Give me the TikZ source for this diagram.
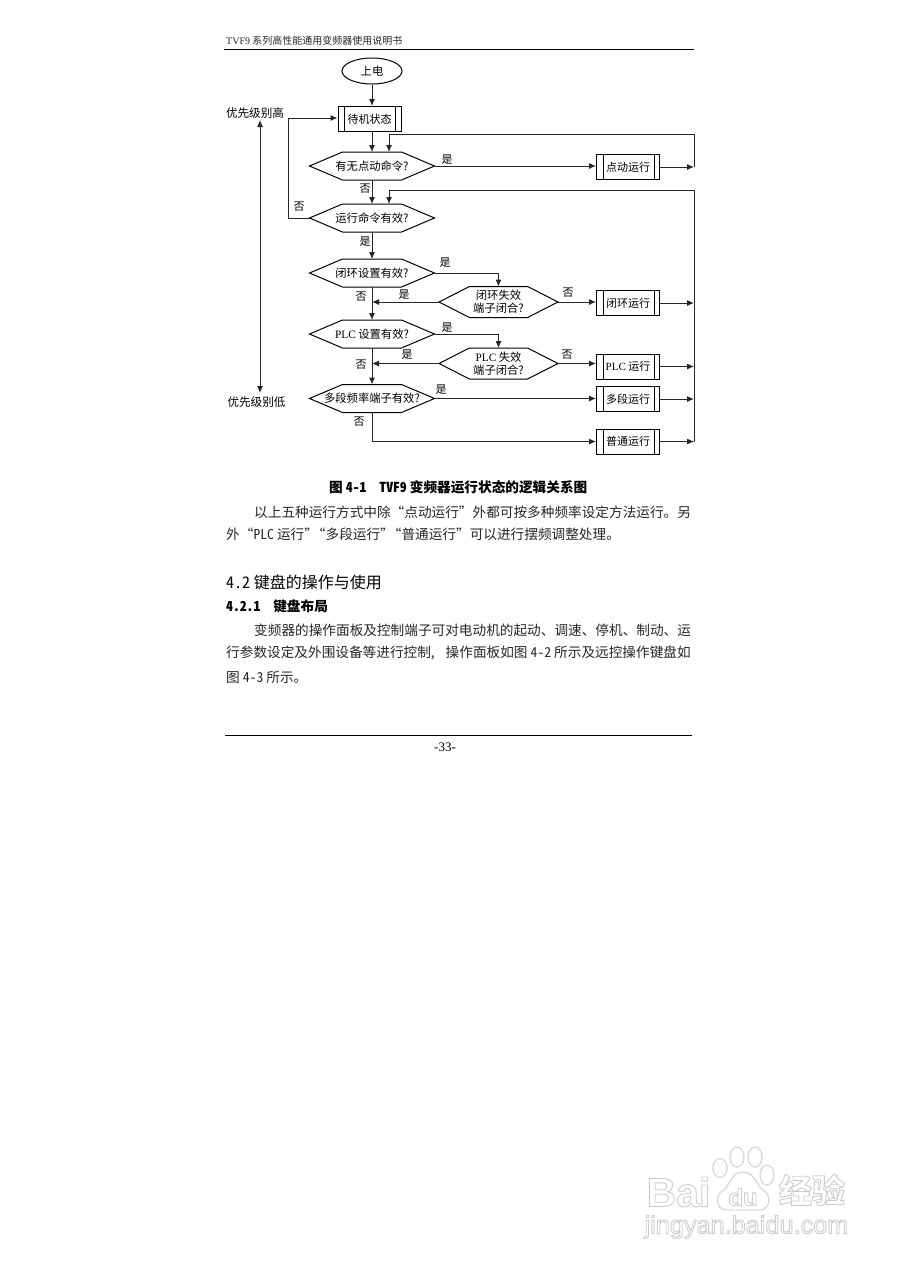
\documentclass[tikz,border=0pt]{standalone}
\usepackage{fontspec}
\setmainfont{Noto Sans CJK SC}
\newfontfamily\lat{Liberation Serif}
\newfontfamily\mn[RawFeature=+hwid]{Noto Sans CJK SC}
\newfontfamily\logofont{Liberation Sans}
\newcommand{\outlined}[1]{\special{pdf:code 1 Tr 0.9 w 0.8 G}#1\special{pdf:code 0 Tr}}
\usetikzlibrary{arrows.meta,shapes.geometric,shapes.symbols}
\tikzset{
  flowline/.style={draw=black!85,line width=1pt,>={Latex[length=7pt,width=6pt]}},
  startnode/.style={draw,ellipse,line width=1pt,minimum width=60pt,minimum height=26pt,inner sep=0pt,font=\fontsize{11.3}{13}\selectfont},
  procbox/.style={draw,line width=1pt,minimum width=63pt,minimum height=25pt,inner sep=0pt,font=\fontsize{11}{13}\selectfont,
    path picture={\draw[line width=1pt] ([xshift=6.5pt]path picture bounding box.north west) -- ([xshift=6.5pt]path picture bounding box.south west);
      \draw[line width=1pt] ([xshift=-5.5pt]path picture bounding box.north east) -- ([xshift=-5.5pt]path picture bounding box.south east);}},
  decision/.style={draw,signal,signal to=east and west,signal pointer angle=46,line width=1pt,inner sep=0pt,outer sep=0pt,
    minimum width=125pt,minimum height=28pt},
  faildecision/.style={decision,signal pointer angle=54,minimum width=119pt,minimum height=31pt},
  hextext/.style={inner sep=0pt,align=center,font=\fontsize{11.3}{13}\selectfont},
  lbl/.style={inner sep=0pt,font=\fontsize{11}{12}\selectfont},
  sidelbl/.style={inner sep=0pt,font=\fontsize{11.6}{13}\selectfont},
  bodyline/.style={anchor=west,inner sep=0pt,text=black!85,font=\fontsize{13.65}{15}\selectfont},
  logotext/.style={inner sep=0pt},
}
\begin{document}
\begin{tikzpicture}[x=1pt,y=-1pt]
        \useasboundingbox (0,0) rectangle (905,1280);
        % Header %
        \node [anchor=west,inner sep=0pt,text=black!85,font=\fontsize{10}{12}\selectfont] (header) at (226,41) {{\lat TVF9} 系列高性能通用变频器使用说明书};
        \coordinate (headl) at (224,49);
        \coordinate (headr) at (694,49);
        \draw [line width=1pt] (headl) -- (headr);
        % Flow nodes %
        \node [startnode] (power) at (372,71) {上电};
        \node [procbox] (boxwait) at (369.5,119) {待机状态};
        \node [decision] (hexjog) at (372,166) {};
        \node [decision] (hexrun) at (372,218) {};
        \node [decision] (hexloop) at (372,273) {};
        \node [faildecision] (hexloopfail) at (498.5,302) {};
        \node [decision] (hexplc) at (372,334) {};
        \node [faildecision] (hexplcfail) at (498.5,363.5) {};
        \node [decision] (hexmulti) at (372,398.5) {};
        \node [hextext] (tjog) at (hexjog) {有无点动命令?};
        \node [hextext] (trun) at (hexrun) {运行命令有效?};
        \node [hextext] (tloop) at (hexloop) {闭环设置有效?};
        \node [hextext] (tloopfail) at (hexloopfail) {闭环失效\\端子闭合?};
        \node [hextext] (tplc) at (hexplc) {{\lat PLC} 设置有效?};
        \node [hextext] (tplcfail) at (hexplcfail) {{\lat PLC} 失效\\端子闭合?};
        \node [hextext] (tmulti) at (hexmulti) {多段频率端子有效?};
        \node [procbox] (boxjog) at (628,167) {点动运行};
        \node [procbox] (boxloop) at (628,303) {闭环运行};
        \node [procbox] (boxplc) at (628,366.5) {{\lat PLC} 运行};
        \node [procbox] (boxmulti) at (628,399) {多段运行};
        \node [procbox] (boxnormal) at (628,441.5) {普通运行};
        % Free ends %
        \coordinate (toppr) at (694,134);
        \coordinate (dropjog) at (389,134);
        \coordinate (toprun) at (694,190);
        \coordinate (droprun) at (389,190);
        \coordinate (busend) at (694,441.5);
        \coordinate (backtop) at (288,118);
        \coordinate (backbot) at (288,218);
        \coordinate (prihigh) at (260,120);
        \coordinate (prilow) at (260,393);
        % Arrows %
        \begin{scope}[flowline]
          \draw [->] (power) -- (power |- boxwait.north);
          \draw [->] (power |- boxwait.south) -- (hexjog.north);
          \draw [->] (hexjog) ++(0,14) -- (hexrun.north);
          \draw [->] (hexrun) ++(0,14) -- (hexloop.north);
          \draw [->] (hexjog.east) -- (hexjog.east -| boxjog.west);
          \draw (toppr) -- (dropjog);
          \draw [->] (dropjog) -- (dropjog |- hexjog.north);
          \draw (toppr) -- (boxjog.east -| toppr);
          \draw (toprun) -- (droprun);
          \draw [->] (droprun) -- (droprun |- hexrun.north);
          \draw (toprun) -- (busend);
          \foreach \boxname in {boxjog,boxloop,boxplc,boxmulti,boxnormal}
            \draw [->] (\boxname.east) -- (\boxname.east -| toppr);
          \draw (hexrun.west) -- (backbot) -- (backtop);
          \draw [->] (backtop) -- (boxwait.west |- backtop);
          \draw [<->] (prihigh) -- (prilow);
          \draw [->] (hexloop.east) -| (hexloopfail.north);
          \draw [->] (hexloop) ++(0,14) -- (hexplc.north);
          \draw [->] (hexloopfail.west) -- (hexloop |- hexloopfail.west);
          \draw [->] (hexloopfail.east) -- (boxloop.west |- hexloopfail.east);
          \draw [->] (hexplc.east) -| (hexplcfail.north);
          \draw [->] (hexplc) ++(0,14) -- (hexmulti.north);
          \draw [->] (hexplcfail.west) -- (hexplc |- hexplcfail.west);
          \draw [->] (hexplcfail.east) -- (boxplc.west |- hexplcfail.east);
          \draw [->] (hexmulti.east) -- (boxmulti.west |- hexmulti.east);
          \draw [->] (hexmulti) ++(0,14) |- (boxnormal.west);
        \end{scope}
        % Labels %
        \node [lbl] (yesjog) at (447,160) {是};
        \node [lbl] (nojog) at (365,189) {否};
        \node [lbl] (norun) at (299,207) {否};
        \node [lbl] (yesrun) at (365,242) {是};
        \node [lbl] (yesloop) at (445,263) {是};
        \node [lbl] (noloop) at (361,297) {否};
        \node [lbl] (yesfail) at (404,295) {是};
        \node [lbl] (nofail) at (568,293) {否};
        \node [lbl] (yesplc) at (447,328) {是};
        \node [lbl] (yesplcfail) at (407,355) {是};
        \node [lbl] (noplc) at (361,365) {否};
        \node [lbl] (noplcfail) at (567,355) {否};
        \node [lbl] (yesmulti) at (441,390) {是};
        \node [lbl] (nomulti) at (359,422) {否};
        \node [sidelbl] (high) at (255,113) {优先级别高};
        \node [sidelbl] (low) at (256.5,402) {优先级别低};
        % Text %
        \node [anchor=west,inner sep=0pt,font=\fontsize{13.65}{15}\selectfont\bfseries] (caption) at (329,487.5) {图 {\mn 4-1}\hspace{13pt}{\mn TVF9} 变频器运行状态的逻辑关系图};
        \node [bodyline] (line1) at (254,512) {以上五种运行方式中除“点动运行”外都可按多种频率设定方法运行。另};
        \node [bodyline] (line2) at (226,534) {外“{\mn PLC} 运行”\hspace{-6pt}“多段运行”\hspace{-6pt}“普通运行”可以进行摆频调整处理。};
        \node [anchor=west,inner sep=0pt,font=\fontsize{16}{18}\selectfont] (head42) at (226,582) {{\mn 4.2} 键盘的操作与使用};
        \node [anchor=west,inner sep=0pt,font=\fontsize{13.65}{15}\selectfont\bfseries] (head421) at (226,606) {{\mn 4.2.1}\hspace{13pt}键盘布局};
        \node [bodyline] (line3) at (254,630) {变频器的操作面板及控制端子可对电动机的起动、调速、停机、制动、运};
        \node [bodyline] (line4) at (226,653) {行参数设定及外围设备等进行控制,\hspace{11pt}操作面板如图 {\mn 4-2} 所示及远控操作键盘如};
        \node [bodyline] (line5) at (226,677) {图 {\mn 4-3} 所示。};
        % Footer %
        \coordinate (footl) at (225,735);
        \coordinate (footr) at (692,735);
        \draw [line width=1pt] (footl) -- (footr);
        \node [inner sep=0pt,font=\fontsize{13}{15}\selectfont\lat] (pageno) at (445,747) {-33-};
        % Watermark %
        \begin{scope}[draw=black!14,line width=1.4pt,fill=white]
          \draw (720,1168) ellipse [x radius=7,y radius=9.5];
          \draw (737,1157) ellipse [x radius=7,y radius=10];
          \draw (755,1157) ellipse [x radius=7,y radius=10];
          \draw (767,1175) ellipse [x radius=7,y radius=10];
          \draw (743,1172) .. controls (755,1172) and (758,1188) .. (763,1190) .. controls (773,1196) and (770,1211) .. (758,1210) -- (727,1210) .. controls (715,1210) and (714,1194) .. (724,1190) .. controls (729,1187) and (731,1172) .. (743,1172) -- cycle;
        \end{scope}
        \node [logotext,font=\fontsize{41}{41}\selectfont\logofont\bfseries] (logobai) at (678.5,1192) {\outlined{Bai}};
        \node [logotext,font=\fontsize{24}{24}\selectfont\logofont\bfseries] (logodu) at (743,1197) {\outlined{du}};
        \node [logotext,font=\fontsize{33}{33}\selectfont\bfseries] (logoexp) at (812,1190) {\outlined{经验}};
        \node [logotext,font=\fontsize{25.3}{28}\selectfont\logofont] (logourl) at (746.5,1227) {\outlined{jingyan.baidu.com}};
      \end{tikzpicture}
\end{document}
